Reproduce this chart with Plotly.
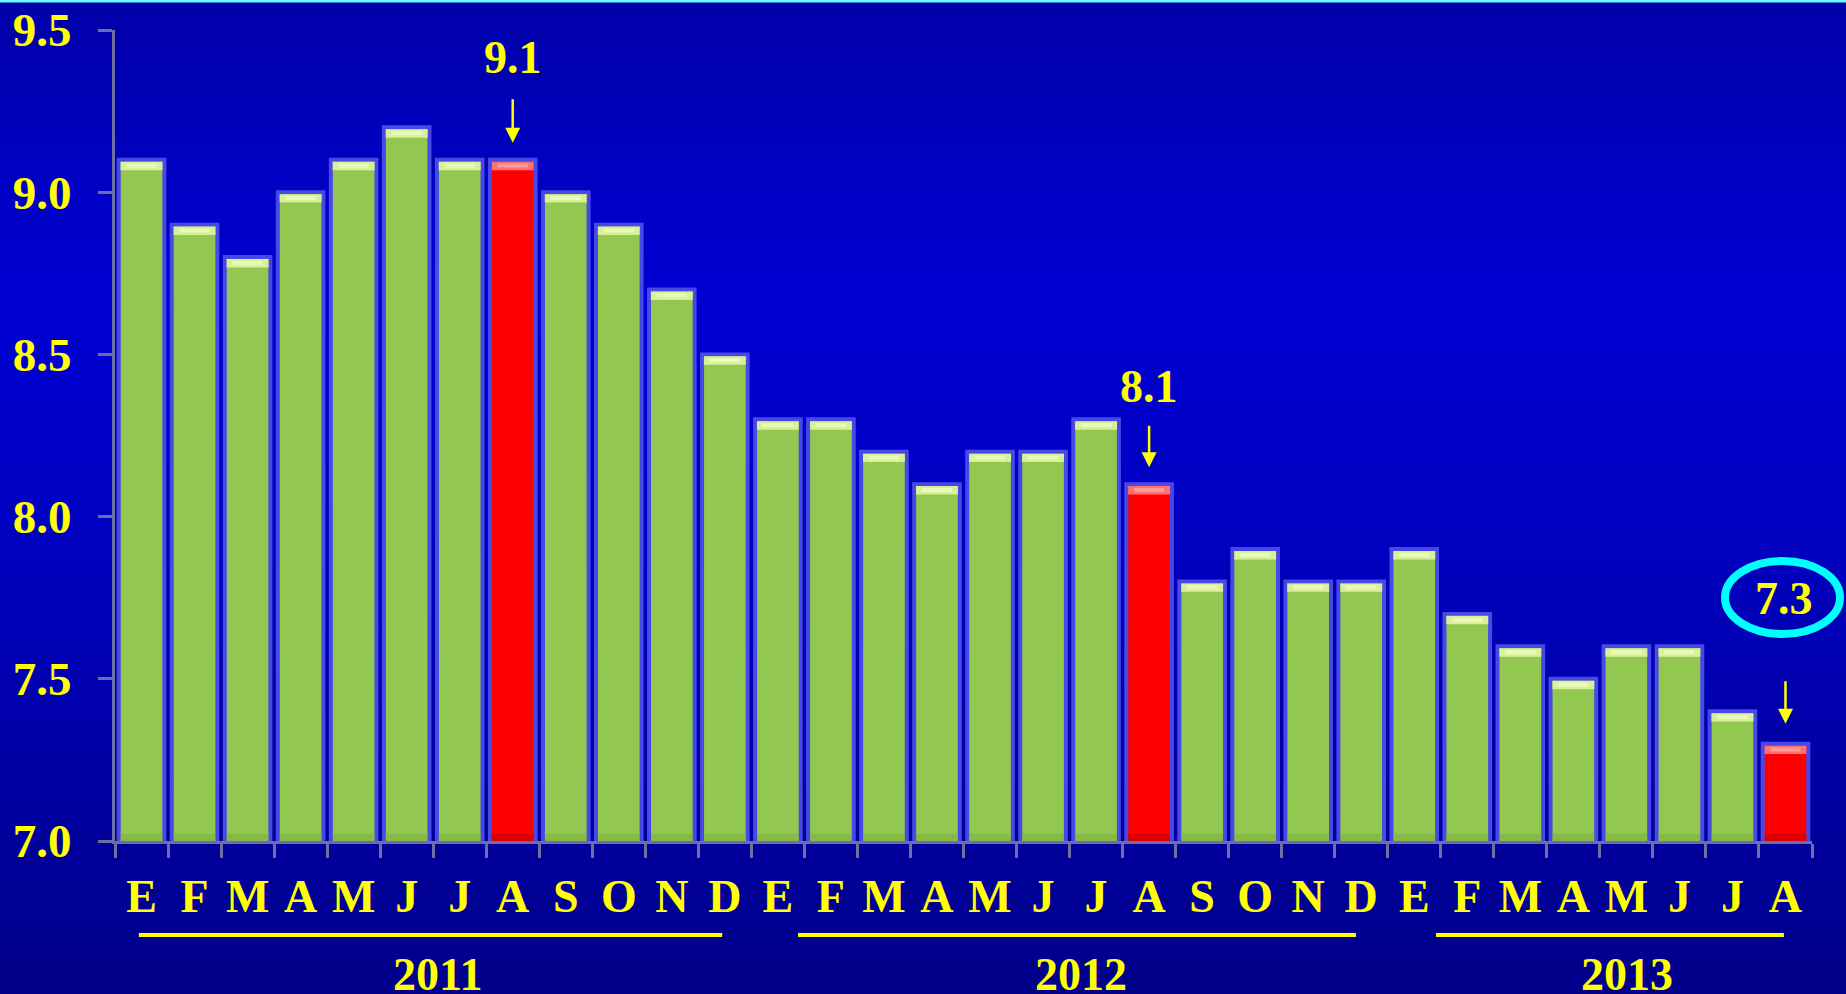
import plotly.graph_objects as go

# ---------------- data ----------------
months = ["E", "F", "M", "A", "M", "J", "J", "A", "S", "O", "N", "D",
          "E", "F", "M", "A", "M", "J", "J", "A", "S", "O", "N", "D",
          "E", "F", "M", "A", "M", "J", "J", "A"]
values = [9.1, 8.9, 8.8, 9.0, 9.1, 9.2, 9.1, 9.1, 9.0, 8.9, 8.7, 8.5,
          8.3, 8.3, 8.2, 8.1, 8.2, 8.2, 8.3, 8.1, 7.8, 7.9, 7.8, 7.8,
          7.9, 7.7, 7.6, 7.5, 7.6, 7.6, 7.4, 7.3]
highlight = [7, 19, 31]          # August bars in red
years = ["2011", "2012", "2013"]
year_spans = [(-0.05, 10.95), (12.38, 22.9), (24.41, 30.97)]
year_label_x = [5.59, 17.72, 28.01]
y_ticks = [7.0, 7.5, 8.0, 8.5, 9.0, 9.5]

# ---------------- styling ----------------
YELLOW = "#FFFF00"
AXIS = "#6E6EA6"
GREEN = "#92C850"
RED = "#FF0000"
FONT = "Liberation Serif"

L, R, T, B = 115, 34, 30, 153
W, H = 1846, 994
PW, PH = W - L - R, H - T - B

x = list(range(len(values)))
colors = [RED if i in highlight else GREEN for i in x]
top_colors = ["#FF7070" if i in highlight else "#D8F09A" for i in x]
top2_colors = ["#FF9A9A" if i in highlight else "#EAFBB8" for i in x]
bot_colors = ["#C80000" if i in highlight else "#7DB043" for i in x]

BW = 0.86
inner = 0.79

fig = go.Figure()
fig.add_trace(go.Bar(x=x, y=values, width=BW, marker=dict(color=colors, line=dict(color="#4848E6", width=4)),
                     hoverinfo="skip"))
# top bevel highlight
fig.add_trace(go.Bar(x=x, y=[0.026] * len(values), base=[v - 0.032 for v in values], width=inner,
                     marker=dict(color=top_colors, line=dict(width=0)), hoverinfo="skip"))
fig.add_trace(go.Bar(x=x, y=[0.012] * len(values), base=[v - 0.024 for v in values], width=inner * 0.72,
                     marker=dict(color=top2_colors, line=dict(width=0)), hoverinfo="skip"))
# bottom bevel shade
fig.add_trace(go.Bar(x=x, y=[0.022] * len(values), base=[7.0] * len(values), width=inner,
                     marker=dict(color=bot_colors, line=dict(width=0)), opacity=0.6, hoverinfo="skip"))

# ---------------- background gradient ----------------
def py2paper(py):
    return (H - B - py) / PH

def px2paper(px):
    return (px - L) / PW

stops = [(0.0, (0, 0, 168)), (0.3, (0, 0, 212)), (0.6, (0, 0, 186)), (1.0, (0, 0, 136))]

def grad(t):
    for (t0, c0), (t1, c1) in zip(stops[:-1], stops[1:]):
        if t0 <= t <= t1:
            f = (t - t0) / (t1 - t0)
            return tuple(int(round(a + (b - a) * f)) for a, b in zip(c0, c1))
    return stops[-1][1]

shapes = []
N = 100
for k in range(N):
    p0 = k * H / N
    p1 = (k + 1) * H / N + 1
    c = grad((k + 0.5) / N)
    shapes.append(dict(type="rect", xref="paper", yref="paper", layer="below",
                       x0=px2paper(-5), x1=px2paper(W + 10), y0=py2paper(p1), y1=py2paper(p0),
                       fillcolor="rgb(%d,%d,%d)" % c, line=dict(width=0)))
# cyan top line
shapes.append(dict(type="rect", xref="paper", yref="paper", layer="above",
                   x0=px2paper(-5), x1=px2paper(W + 10), y0=py2paper(2.5), y1=py2paper(-5),
                   fillcolor="#66FFFF", line=dict(width=0)))
# year underlines
for (a, b) in year_spans:
    shapes.append(dict(type="line", xref="x", yref="paper", x0=a, x1=b,
                       y0=py2paper(935), y1=py2paper(935), line=dict(color=YELLOW, width=4)))
# cyan ellipse
shapes.append(dict(type="circle", xref="paper", yref="paper",
                   x0=px2paper(1725), x1=px2paper(1840), y0=py2paper(634), y1=py2paper(561),
                   line=dict(color="#00FFFF", width=8), fillcolor="rgba(0,0,0,0)"))

annotations = []
for xi, yl in zip(year_label_x, years):
    annotations.append(dict(x=xi, y=py2paper(975), xref="x", yref="paper", text=yl, showarrow=False,
                            xanchor="center", yanchor="middle",
                            font=dict(family=FONT, size=46, color=YELLOW, weight="bold")))
# value labels + arrows
label_shift = {7: 102, 19: 98}
arrow_cfg = {7: (-62, 17), 19: (-60, 17), 31: (-64, 20)}
for i in highlight:
    if i in label_shift:
        annotations.append(dict(x=i, y=values[i], xref="x", yref="y", text="%.1f" % values[i],
                                showarrow=False, xanchor="center", yanchor="middle", yshift=label_shift[i],
                                font=dict(family=FONT, size=46, color=YELLOW, weight="bold")))
    ay, so = arrow_cfg[i]
    annotations.append(dict(x=i, y=values[i], xref="x", yref="y", text="", showarrow=True,
                            ax=0, ay=ay, standoff=so, arrowhead=2, arrowsize=1.2, arrowwidth=2.5,
                            arrowcolor=YELLOW))
annotations.append(dict(x=px2paper(1784), y=py2paper(598), xref="paper", yref="paper",
                        text="%.1f" % values[31], showarrow=False, xanchor="center", yanchor="middle",
                        font=dict(family=FONT, size=46, color=YELLOW, weight="bold")))

fig.update_layout(
    width=W, height=H,
    margin=dict(l=L, r=R, t=T, b=B, autoexpand=False),
    paper_bgcolor="#000090", plot_bgcolor="rgba(0,0,0,0)",
    barmode="overlay", showlegend=False,
    shapes=shapes, annotations=annotations,
    xaxis=dict(range=[-0.5, 31.5], tickmode="array", tickvals=x, ticktext=months, ticks="",
               automargin=False,
               showgrid=False, zeroline=False, showline=True, linecolor=AXIS, linewidth=3,
               tickfont=dict(family=FONT, size=46, color=YELLOW, weight="bold"),
               ticklabelstandoff=13,
               minor=dict(tickmode="array", tickvals=[i - 0.5 for i in range(33)], ticks="outside",
                          ticklen=14, tickwidth=3, tickcolor=AXIS, showgrid=False)),
    yaxis=dict(range=[7.0, 9.5], tickmode="array", tickvals=y_ticks, automargin=False,
               ticktext=["%.1f" % v for v in y_ticks], ticks="outside", ticklen=14, tickwidth=3,
               tickcolor=AXIS, showgrid=False, zeroline=False, showline=True, linecolor=AXIS, linewidth=3,
               tickfont=dict(family=FONT, size=47, color=YELLOW, weight="bold"),
               ticklabelstandoff=17),
)

fig.write_html("out.html")
